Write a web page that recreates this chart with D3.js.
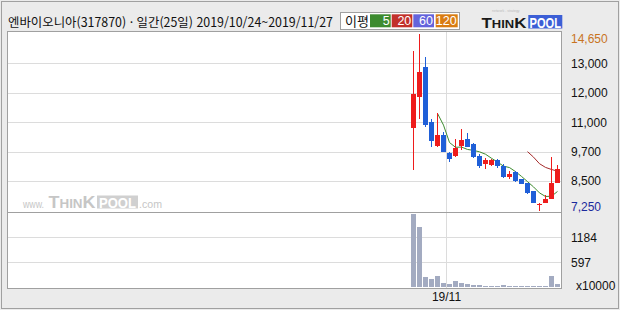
<!DOCTYPE html>
<html lang="ko">
<head>
<meta charset="UTF-8">
<title>엔바이오니아 일간 차트</title>
<script src="https://d3js.org/d3.v7.min.js"></script>
<style>
  body { margin: 0; background: #fff; }
  svg text { font-family: "Liberation Sans", Arial, sans-serif; }
  .hdr { font-family: "Noto Sans CJK KR", "Liberation Sans", sans-serif; }
</style>
</head>
<body>
<div id="chart"></div>
<script>
// ---- data ----
const dates = ["2019-10-24","2019-10-25","2019-10-28","2019-10-29","2019-10-30","2019-10-31",
  "2019-11-01","2019-11-04","2019-11-05","2019-11-06","2019-11-07","2019-11-08","2019-11-11",
  "2019-11-12","2019-11-13","2019-11-14","2019-11-15","2019-11-18","2019-11-19","2019-11-20",
  "2019-11-21","2019-11-22","2019-11-25","2019-11-26","2019-11-27"];
const opens  = [10700,12000,13250,10950, 9950,10400, 9650, 9550, 9950,10250,10050, 9550, 9200,
  9150, 9350, 9100, 8650, 8850, 8550, 8400, 8050, 7510, 7580, 7750, 8400];
const highs  = [13950,14650,13700,11100,11350,10550, 9700,10250,10650,10500,10100, 9600, 9450,
  9400, 9400, 9200, 8900, 8900, 8550, 8400, 8050, 7560, 7900, 9480, 9150];
const lows   = [ 8950,11100,10750, 9900, 9900, 9700, 9300, 9500, 9800, 9900, 9450, 9050, 9000,
  9100, 9050, 8600, 8550, 8450, 8350, 7950, 7550, 7250, 7570, 7750, 8400];
const closes = [12150,13050,10850,10150,10400, 9700, 9400, 9850,10200, 9900, 9500, 9100, 9350,
  9350, 9100, 8650, 8800, 8500, 8350, 8000, 7550, 7540, 7750, 8400, 9000];
const volumes = [1739,1411, 239, 184, 263, 105,  65, 136,  89,  65,  41,  41,  20,
    20,  20,  41,  20,  20,  20,  20,  20,  20,  20, 263,  65];   // x10000
const ma5  = [null,null,null,null,11320,10830,10100, 9900, 9910, 9810, 9770, 9710, 9610,
  9440, 9280, 9110, 9050, 8880, 8680, 8460, 8240, 7988, 7838, 7848, 8048];
const ma20 = [null,null,null,null,null,null,null,null,null,null,null,null,null,
  null,null,null,null,null,null, 9718, 9488, 9212, 9057, 8970, 8900];

const priceDomain = [7250, 14650];
const priceTickLabels = ["8,500", "9,700", "11,000", "12,000", "13,000"];
const priceMaxLabel = "14,650";
const priceMinLabel = "7,250";
const volMax = 1776;
const volTickLabels = ["597", "1184"];
const volUnit = "x10000";
const monthLabel = { date: "2019-11-01", text: "19/11" };
const maLegend = [
  { label: "5",   color: "#3d8b2f" },
  { label: "20",  color: "#c2312b" },
  { label: "60",  color: "#6464dc" },
  { label: "120", color: "#d97c12" }
];
const title = "엔바이오니아(317870) · 일간(25일) 2019/10/24~2019/11/27";
const emptySlots = 67;

// ---- layout ----
const W = 620, H = 310;
const plot = { left: 7.5, right: 561.5, top: 31, sep: 212, bottom: 288 };
const upColor = "#ee1c1c", downColor = "#1f5fd8";

const svg = d3.select("#chart").append("svg")
  .attr("width", W).attr("height", H)
  .style("display", "block");

// outer frame
svg.append("rect").attr("x", 0).attr("y", 0).attr("width", W).attr("height", H).attr("fill", "#ebebeb");
svg.append("rect").attr("x", 1.5).attr("y", 1.5).attr("width", W - 3).attr("height", H - 3)
  .attr("fill", "none").attr("stroke", "#a0a0a0");

// plot box
svg.append("rect").attr("x", plot.left).attr("y", plot.top)
  .attr("width", plot.right - plot.left).attr("height", plot.bottom - plot.top)
  .attr("fill", "#fff");

const slots = d3.range(emptySlots + dates.length);
const x = d3.scaleBand().domain(slots).range([9, 9 + slots.length * 6]).padding(0);
const xs = i => x(emptySlots + i);

const y = d3.scaleLinear().domain(priceDomain).range([210.5, 34]);
const yv = d3.scaleLinear().domain([0, volMax]).range([287, 212]);

// grid
const grid = svg.append("g").attr("stroke", "#dcdcdc").attr("shape-rendering", "crispEdges");
const gridVals = d3.range(1, 6).map(i => priceDomain[0] + (priceDomain[1] - priceDomain[0]) * i / 6);
grid.selectAll("line.h").data(gridVals).join("line")
  .attr("x1", plot.left).attr("x2", plot.right)
  .attr("y1", d => Math.round(y(d)) + 0.5).attr("y2", d => Math.round(y(d)) + 0.5);
const volGrid = [volMax / 3, volMax * 2 / 3];
grid.selectAll("line.v").data(volGrid).join("line")
  .attr("x1", plot.left).attr("x2", plot.right)
  .attr("y1", d => Math.round(yv(d)) + 0.5).attr("y2", d => Math.round(yv(d)) + 0.5);
const mIdx = dates.indexOf(monthLabel.date);
grid.append("line")
  .attr("x1", xs(mIdx) - 0.5).attr("x2", xs(mIdx) - 0.5)
  .attr("y1", plot.top).attr("y2", plot.bottom);

// watermark
const wm = svg.append("g").attr("fill", "#c6c6c6");
wm.append("text").attr("x", 23).attr("y", 208).attr("font-size", 11)
  .attr("textLength", 21).attr("lengthAdjust", "spacingAndGlyphs").text("www.");
const wmT = wm.append("text").attr("x", 48.5).attr("y", 208).attr("font-weight", "bold")
  .attr("textLength", 47).attr("lengthAdjust", "spacingAndGlyphs");
wmT.append("tspan").attr("font-size", 16).text("T");
wmT.append("tspan").attr("font-size", 12).text("HIN");
wmT.append("tspan").attr("font-size", 16).text("K");
wm.append("rect").attr("x", 97).attr("y", 195.5).attr("width", 41).attr("height", 13).attr("fill", "#d0d0d0");
wm.append("text").attr("x", 99).attr("y", 207.5)
  .attr("font-size", 14).attr("font-weight", "bold").attr("fill", "#fff")
  .attr("textLength", 37).attr("lengthAdjust", "spacingAndGlyphs").text("POOL");
wm.append("text").attr("x", 139).attr("y", 208).attr("font-size", 11)
  .attr("textLength", 23).attr("lengthAdjust", "spacingAndGlyphs").text(".com");

// moving averages
const line = d3.line().defined(d => d.v != null).x(d => xs(d.i) + 2.5).y(d => y(d.v));
svg.append("path").datum(ma5.map((v, i) => ({ v, i })))
  .attr("d", line).attr("fill", "none").attr("stroke", "#3d8b2f").attr("stroke-width", 1);
svg.append("path").datum(ma20.map((v, i) => ({ v, i })))
  .attr("d", line).attr("fill", "none").attr("stroke", "#a52a2a").attr("stroke-width", 1);

// candles
const candles = svg.append("g").attr("shape-rendering", "crispEdges");
const cdata = dates.map((d, i) => ({ i, o: opens[i], h: highs[i], l: lows[i], c: closes[i] }));
const cg = candles.selectAll("g").data(cdata).join("g")
  .attr("fill", d => d.c >= d.o ? upColor : downColor)
  .attr("stroke", d => d.c >= d.o ? upColor : downColor);
cg.append("line")
  .attr("x1", d => xs(d.i) + 2.5).attr("x2", d => xs(d.i) + 2.5)
  .attr("y1", d => y(d.h)).attr("y2", d => y(d.l));
cg.append("rect")
  .attr("stroke", "none")
  .attr("x", d => xs(d.i)).attr("width", 5)
  .attr("y", d => y(Math.max(d.o, d.c)))
  .attr("height", d => Math.max(1, Math.abs(y(d.o) - y(d.c))));

// volume
svg.append("g").attr("fill", "#a3abc1").attr("shape-rendering", "crispEdges")
  .selectAll("rect").data(volumes).join("rect")
  .attr("x", (d, i) => xs(i)).attr("width", 5)
  .attr("y", d => yv(d)).attr("height", d => yv(0) - yv(d));

// plot borders
const border = svg.append("g").attr("stroke", "#a0a0a0").attr("fill", "none").attr("shape-rendering", "crispEdges");
border.append("rect").attr("x", plot.left).attr("y", plot.top)
  .attr("width", plot.right - plot.left).attr("height", plot.bottom - plot.top);
border.append("line").attr("x1", plot.left).attr("x2", plot.right)
  .attr("y1", plot.sep + 0.5).attr("y2", plot.sep + 0.5);

// price labels
const lab = svg.append("g").attr("font-size", 12).attr("fill", "#111");
lab.selectAll("text.p").data(gridVals).join("text")
  .attr("x", 571).attr("y", d => y(d)).attr("dy", "0.36em")
  .text((d, i) => priceTickLabels[i]);
lab.append("text").attr("x", 571).attr("y", y(priceDomain[1]) + 4.5).attr("dy", "0.36em")
  .attr("fill", "#c8741e").text(priceMaxLabel);
lab.append("text").attr("x", 571).attr("y", y(priceDomain[0]) - 4).attr("dy", "0.36em")
  .attr("fill", "#1c2a9c").text(priceMinLabel);
lab.selectAll("text.v").data(volGrid).join("text")
  .attr("x", 571).attr("y", d => yv(d) + 1).attr("dy", "0.36em")
  .text((d, i) => volTickLabels[i]);
lab.append("text").attr("x", 576).attr("y", 286).attr("dy", "0.36em").text(volUnit);
lab.append("text").attr("x", xs(mIdx) - 0.5).attr("y", 297).attr("dy", "0.36em")
  .attr("text-anchor", "middle").text(monthLabel.text);

// header
svg.append("text").attr("class", "hdr").attr("x", 8).attr("y", 27)
  .attr("font-size", 12.5).attr("fill", "#111")
  .attr("textLength", 325).attr("lengthAdjust", "spacingAndGlyphs")
  .text(title);

const lg = svg.append("g");
lg.append("rect").attr("x", 340.5).attr("y", 12.5).attr("width", 119).attr("height", 17)
  .attr("fill", "#fff").attr("stroke", "#a0a0a0");
lg.append("text").attr("class", "hdr").attr("x", 345).attr("y", 25.5)
  .attr("font-size", 13).attr("fill", "#111").text("이평");
const boxX = [370, 391.7, 413.3, 435.7];
const boxW = [20.7, 20.6, 20.7, 22];
maLegend.forEach((m, i) => {
  lg.append("rect").attr("x", boxX[i]).attr("y", 14.3).attr("width", boxW[i]).attr("height", 13)
    .attr("fill", m.color);
  lg.append("text").attr("x", boxX[i] + boxW[i] - 1).attr("y", 25.3).attr("text-anchor", "end")
    .attr("font-size", 12.5).attr("fill", "#fff").text(m.label);
});

// logo
const logo = svg.append("g");
const lt = logo.append("text").attr("x", 481.5).attr("y", 28).attr("font-weight", "bold").attr("fill", "#1a1a1a")
  .attr("textLength", 45).attr("lengthAdjust", "spacingAndGlyphs");
lt.append("tspan").attr("font-size", 15).text("T");
lt.append("tspan").attr("font-size", 11.5).text("HIN");
lt.append("tspan").attr("font-size", 15).text("K");
logo.append("rect").attr("x", 528.3).attr("y", 15).attr("width", 34).attr("height", 13.5).attr("fill", "#3c5fd6");
logo.append("text").attr("x", 529.5).attr("y", 27.5)
  .attr("font-size", 15).attr("font-weight", "bold").attr("fill", "#fff")
  .attr("textLength", 31.5).attr("lengthAdjust", "spacingAndGlyphs").text("POOL");
logo.append("text").attr("x", 492).attr("y", 11.5).attr("font-size", 3.5).attr("fill", "#bbb").text("network . strategy");
</script>
</body>
</html>
